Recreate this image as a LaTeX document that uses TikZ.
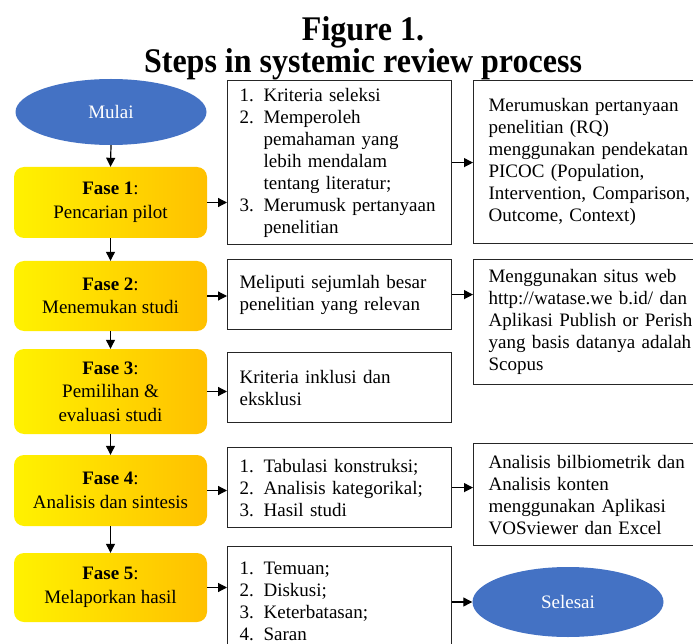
\documentclass[tikz,border=0pt]{standalone}
\usepackage{fontspec}
\setmainfont{Liberation Serif}
\usetikzlibrary{arrows.meta,positioning,shapes.geometric}
\definecolor{startblue}{HTML}{4472C4}
\definecolor{phaseyellow}{HTML}{FFF200}
\definecolor{phaseorange}{HTML}{FFC000}
\newcommand{\itm}[1]{\makebox[24pt][l]{#1.}}
\newcommand{\cont}{\hspace*{24pt}}

\begin{document}
\begin{tikzpicture}[
        x=1pt, y=-1pt,
        font=\fontsize{19}{22}\selectfont,
        terminal/.style={ellipse, fill=startblue, text=white, minimum width=191pt,
            minimum height=66pt, inner sep=0pt},
        phase/.style={rounded corners=10pt, left color=phaseyellow, right color=phaseorange,
            minimum width=193pt, align=center, inner sep=0pt,
            font=\fontsize{19}{23.5}\selectfont},
        infobox/.style={draw=black!85, line width=1.2pt, anchor=north west, align=left,
            inner xsep=12pt, inner ysep=0pt, text width=200pt},
        resbox/.style={infobox, inner xsep=15pt, text width=230pt},
        flow/.style={-{Triangle[length=9pt,width=9pt]}, line width=1.2pt},
    ]
        \useasboundingbox (0,0) rectangle (693,644);

        % Title
        \node[align=center, inner sep=0pt, font=\bfseries\fontsize{32}{32}\selectfont] (ttl) at (363,48)
            {\scalebox{1}[1.08]{Figure 1.}\\\scalebox{1}[1.08]{Steps in systemic review process}};

        % Phases
        \node[terminal] (start) at (111,112) {Mulai};
        \node[phase, minimum height=71pt] (f1) at (110.5,202.5) {\textbf{Fase 1}:\\Pencarian pilot};
        \node[phase, minimum height=70pt] (f2) at (110.5,296) {\textbf{Fase 2}:\\Menemukan studi};
        \node[phase, minimum height=85pt] (f3) at (110.5,391.5) {\textbf{Fase 3}:\\Pemilihan \&\\evaluasi studi};
        \node[phase, minimum height=71pt] (f4) at (110.5,490.5) {\textbf{Fase 4}:\\Analisis dan sintesis};
        \node[phase, minimum height=69pt] (f5) at (110.5,587.5) {\textbf{Fase 5}:\\Melaporkan hasil};

        % Activities
        \node[infobox, minimum height=164pt] (b1) at (227,80) {\itm{1}Kriteria seleksi\\
            \itm{2}Memperoleh\\\cont pemahaman yang\\\cont lebih mendalam\\\cont tentang literatur;\\
            \itm{3}Merumusk pertanyaan\\\cont penelitian};
        \node[infobox, minimum height=70pt] (b2) at (227,259) {Meliputi sejumlah besar\\penelitian yang relevan};
        \node[infobox, minimum height=70pt] (b3) at (227,352) {Kriteria inklusi dan\\eksklusi};
        \node[infobox, minimum height=80pt] (b4) at (227,447) {\itm{1}Tabulasi konstruksi;\\
            \itm{2}Analisis kategorikal;\\\itm{3}Hasil studi};
        \node[infobox, minimum height=110pt] (b5) at (227,546) {\itm{1}Temuan;\\\itm{2}Diskusi;\\
            \itm{3}Keterbatasan;\\\itm{4}Saran};

        % Results
        \node[resbox, minimum height=163pt] (r1) at (473,80) {Merumuskan pertanyaan\\penelitian (RQ)\\
            menggunakan pendekatan\\PICOC (Population,\\Intervention, Comparison,\\Outcome, Context)};
        \node[resbox, minimum height=125pt] (r2) at (473,259) {Menggunakan situs web\\http://watase.we b.id/ dan\\
            Aplikasi Publish or Perish\\yang basis datanya adalah\\Scopus};
        \node[resbox, minimum height=102pt] (r3) at (473,443) {Analisis bilbiometrik dan\\Analisis konten\\
            menggunakan Aplikasi\\VOSviewer dan Excel};
        \node[terminal, minimum height=70pt] (sel) at (568,602) {Selesai};

        % Connectors
        \draw[flow] (start.south) -- (f1.north);
        \foreach \i/\j in {1/2,2/3,3/4,4/5} {
            \draw[flow] (f\i.south) -- (f\j.north);
        }
        \foreach \i in {1,...,5} {
            \draw[flow] (f\i.east) -- (f\i.east -| b\i.west);
        }
        \draw[flow] (b1.east) -- (b1.east -| r1.west);
        \draw[flow] (b2.east) -- (b2.east -| r2.west);
        \draw[flow] (b4.east) -- (b4.east -| r3.west);
        \draw[flow] (sel.west -| b5.east) -- (sel.west);
    \end{tikzpicture}
\end{document}
